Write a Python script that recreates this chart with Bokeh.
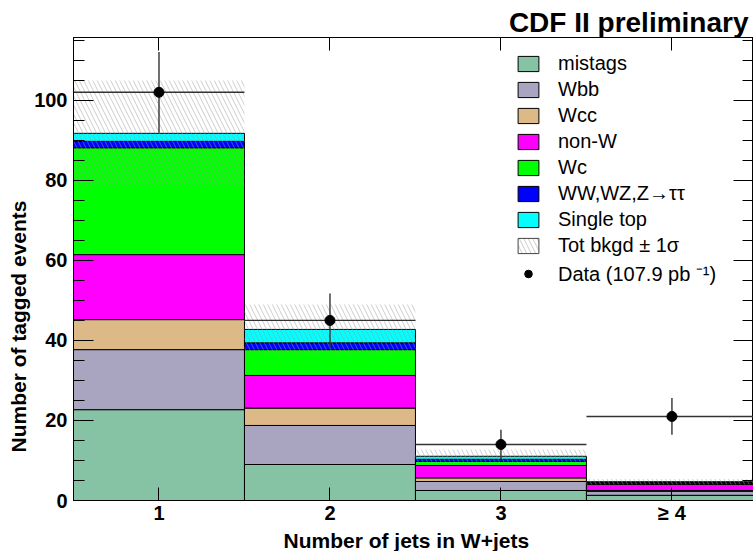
import numpy as np
from bokeh.plotting import figure
from bokeh.models import (Range1d, LinearAxis, FixedTicker, SingleIntervalTicker,
                          CustomJSTickFormatter, Legend, LegendItem, Title)
from bokeh.embed import file_html
from bokeh.resources import INLINE

# ---------------- data ----------------
njets = [1, 2, 3, 4]
xtick_labels = ["1", "2", "3", "≥ 4"]
mistags = [22.7, 9.0, 2.5, 1.3]
wbb = [15.0, 9.75, 2.25, 1.0]
wcc = [7.5, 4.35, 0.9, 0.2]
nonw = [16.25, 8.15, 3.1, 1.5]
wc = [26.7, 6.45, 1.05, 0.3]
diboson = [1.6, 1.7, 0.5, 0.2]
single_top = [2.0, 3.35, 0.75, 0.2]
bkg_err = [13.2, 6.2, 1.7, 0.7]
data = [102, 45, 14, 21]
data_err = [10.1, 6.7, 3.7, 4.6]

layer_names = ["mistags", "Wbb", "Wcc", "non-W", "Wc", "WW,WZ,Z→ττ", "Single top"]
layer_colors = ["#86c2a4", "#a9a5c0", "#ddb987", "#ff00ff", "#00ff00", "#0000ff", "#00ffff"]
layers = [mistags, wbb, wcc, nonw, wc, diboson, single_top]

FONT = "Liberation Sans"

p = figure(width=753, height=551, x_range=Range1d(0.5, 4.477), y_range=Range1d(0, 115.7),
           output_backend="svg", toolbar_location=None,
           x_axis_type=None, y_axis_type=None,
           min_border_left=73, min_border_right=0, min_border_top=37, min_border_bottom=51)
p.xgrid.visible = False
p.ygrid.visible = False
p.outline_line_color = "black"
p.outline_line_width = 1
p.background_fill_color = "white"
p.border_fill_color = "white"

p.title = Title(text="CDF II preliminary", align="right", offset=5, standoff=0,
                text_font=FONT, text_font_style="bold", text_font_size="28px",
                text_color="black")


def style_axis(ax):
    ax.axis_line_color = "black"
    ax.major_tick_line_color = "black"
    ax.minor_tick_line_color = "black"
    ax.major_tick_out = 0
    ax.minor_tick_out = 0
    ax.major_label_text_font = FONT
    ax.major_label_text_font_style = "bold"
    ax.major_label_text_font_size = "20px"
    ax.major_label_text_color = "black"


empty = CustomJSTickFormatter(code="return ''")

left_ax = LinearAxis(ticker=SingleIntervalTicker(interval=20, num_minor_ticks=4))
style_axis(left_ax)
left_ax.major_tick_in = 20
left_ax.minor_tick_in = 11
left_ax.major_label_standoff = 6
p.add_layout(left_ax, "left")
p.add_layout(Title(text="Number of tagged events", align="left", offset=48, standoff=4,
                   text_font=FONT, text_font_style="bold", text_font_size="21px",
                   text_color="black"), "left")

right_ax = LinearAxis(ticker=SingleIntervalTicker(interval=20, num_minor_ticks=4), formatter=empty)
style_axis(right_ax)
right_ax.major_tick_in = 20
right_ax.minor_tick_in = 11
right_ax.major_label_standoff = 0
p.add_layout(right_ax, "right")

bottom_ax = LinearAxis(ticker=FixedTicker(ticks=njets, minor_ticks=[]),
                       major_label_overrides=dict(zip(njets, xtick_labels)))
style_axis(bottom_ax)
bottom_ax.major_tick_in = 13
bottom_ax.major_label_standoff = 1
p.add_layout(bottom_ax, "below")
p.add_layout(Title(text="Number of jets in W+jets", align="left", offset=210, standoff=0,
                   text_font=FONT, text_font_style="bold", text_font_size="21px",
                   text_color="black"), "below")

top_ax = LinearAxis(ticker=FixedTicker(ticks=njets, minor_ticks=[]), formatter=empty)
style_axis(top_ax)
top_ax.major_tick_in = 13
top_ax.major_label_standoff = 0
p.add_layout(top_ax, "above")

# ---------------- stacked histogram ----------------
x = np.array(njets, dtype=float)
left = x - 0.5
right = x + 0.5
cum = np.cumsum(np.array(layers, dtype=float), axis=0)
items = []
for i, (name, color) in enumerate(zip(layer_names, layer_colors)):
    bottom = cum[i - 1] if i > 0 else np.zeros_like(x)
    r = p.quad(left=left, right=right, bottom=bottom, top=cum[i],
               fill_color=color, line_color="black", line_width=1)
    items.append(LegendItem(label=name, renderers=[r]))

total = cum[-1]
err = np.array(bkg_err)
hatch_kw = dict(hatch_pattern="\\", hatch_color="#999999", hatch_alpha=0.5,
                hatch_scale=9, hatch_weight=1)
p.quad(left=left, right=right, bottom=total - err, top=total + err,
       fill_alpha=0, line_color=None, **hatch_kw)
# legend-only swatch (outlined hatched box), not drawn in the plot
nan = [np.nan]
hatch_leg = p.quad(left=nan, right=nan, bottom=nan, top=nan, fill_color="white",
                   line_color="#444444", line_width=1, **hatch_kw)
items.append(LegendItem(label="Tot bkgd ± 1σ", renderers=[hatch_leg]))

# ---------------- data ----------------
d = np.array(data, dtype=float)
de = np.array(data_err)
p.segment(x0=left, x1=right, y0=d, y1=d, line_color="#333333", line_width=1.4)
p.segment(x0=x, x1=x, y0=d - de, y1=d + de, line_color="#333333", line_width=1.4)
pts = p.scatter(x=x, y=d, size=10, marker="circle", fill_color="black", line_color="black")
items.append(LegendItem(label="Data (107.9 pb ⁻¹)", renderers=[pts]))

legend = Legend(items=items, location=(442, 213), glyph_width=26, glyph_height=19,
                label_height=19, spacing=3, label_standoff=17, padding=0, margin=0,
                border_line_color=None, background_fill_alpha=0,
                label_text_font=FONT, label_text_font_size="20px", label_text_color="black")
p.add_layout(legend)

open("out.html", "w").write(file_html(p, INLINE))
